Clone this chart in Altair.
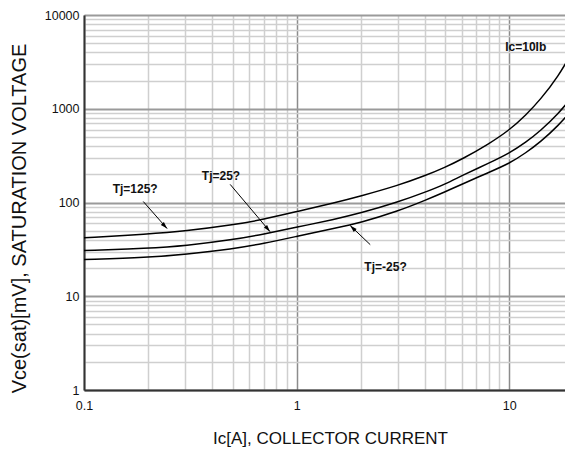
import altair as alt
import pandas as pd

# ---- data ----
ic = [0.1, 0.2, 0.3, 0.5, 0.7, 1, 1.5, 2, 3, 4, 5, 6, 8, 10, 12, 14, 17, 20]
vce_tj125 = [42, 46, 49.6, 57.5, 66, 80, 99, 117, 152, 192, 238, 290, 420, 590, 860, 1250, 2200, 4200]
vce_tj25 = [30.7, 32.5, 34.5, 40, 46, 54.5, 66, 77, 101, 128, 157, 194, 262, 335, 440, 580, 880, 1380]
vce_tjm25 = [24.6, 26, 28, 32, 36.5, 43.5, 53, 61, 81, 105, 130, 157, 209, 260, 340, 440, 660, 1000]

label_text = ["Ic=10Ib", "Tj=125?", "Tj=25?", "Tj=-25?"]
label_x = [11.96, 0.174, 0.441, 2.62]
label_y = [4550, 138, 194, 20.4]

arrow_x = [0.190, 0.487, 2.22]
arrow_y = [102.5, 156, 35.5]
arrow_x2 = [0.246, 0.75, 1.786]
arrow_y2 = [52.7, 48.9, 56.8]
arrow_angle = [137, 140, 314]

x_grid = [0.1, 0.2, 0.3, 0.4, 0.5, 0.6, 0.7, 0.8, 0.9,
          1, 2, 3, 4, 5, 6, 7, 8, 9, 10]
y_grid = [1, 2, 3, 4, 5, 6, 7, 8, 9,
          10, 20, 30, 40, 50, 60, 70, 80, 90,
          100, 200, 300, 400, 500, 600, 700, 800, 900,
          1000, 2000, 3000, 4000, 5000, 6000, 7000, 8000, 9000, 10000]

FONT = "Liberation Sans"
TXT = "#111111"

rows = []
for name, vals in [("Tj=125", vce_tj125), ("Tj=25", vce_tj25), ("Tj=-25", vce_tjm25)]:
    for a, v in zip(ic, vals):
        rows.append({"ic": a, "vce": v, "series": name})
curves = pd.DataFrame(rows)
labels = pd.DataFrame({"t": label_text, "ic": label_x, "vce": label_y})
arrows = pd.DataFrame({"ic": arrow_x, "vce": arrow_y, "ic2": arrow_x2, "vce2": arrow_y2})
heads = pd.DataFrame({"ic": arrow_x2, "vce": arrow_y2, "ang": arrow_angle})

decade = "abs(log(datum.value)/LN10 - round(log(datum.value)/LN10)) < 0.001"

xscale = alt.Scale(type="log", domain=[0.1, 18.3], nice=False)
yscale = alt.Scale(type="log", domain=[1, 10000], nice=False)

xaxis = alt.Axis(
    values=x_grid, labelExpr=f"({decade}) ? format(datum.value, '~g') : ''",
    labelOverlap=False, labelFlush=False, ticks=False, grid=True,
    gridColor={"condition": {"test": decade, "value": "#8c8c8c"}, "value": "#cfcfcf"},
    gridWidth={"condition": {"test": decade, "value": 1.5}, "value": 1.5},
    domainColor="#333333", domainWidth=2,
    labelFont=FONT, labelFontSize=12.5, labelColor=TXT, labelPadding=9,
    title="Ic[A], COLLECTOR CURRENT", titleFont=FONT, titleFontSize=17,
    titleFontWeight="normal", titleColor=TXT, titleBaseline="middle",
    titleAlign="center", titleX=246, titleY=48,
)
yaxis = alt.Axis(
    values=y_grid, labelExpr=f"({decade}) ? format(datum.value, '~g') : ''",
    labelOverlap=False, labelFlush=False, ticks=False, grid=True,
    gridColor={"condition": {"test": decade, "value": "#9a9a9a"}, "value": "#cfcfcf"},
    gridWidth={"condition": {"test": decade, "value": 2}, "value": 1.5},
    domainColor="#333333", domainWidth=2,
    labelFont=FONT, labelFontSize=12.5, labelColor=TXT, labelPadding=5,
    title="Vce(sat)[mV], SATURATION VOLTAGE", titleFont=FONT, titleFontSize=20,
    titleFontWeight="normal", titleColor=TXT, titleBaseline="middle",
    titleAlign="center", titleX=-65, titleY=203,
)

X = alt.X("ic:Q", scale=xscale, axis=xaxis)
Y = alt.Y("vce:Q", scale=yscale, axis=yaxis)

lines = alt.Chart(curves).mark_line(color="black", strokeWidth=1.5, interpolate="basis", clip=True).encode(
    x=X, y=Y, detail="series:N",
)

rules = alt.Chart(arrows).mark_rule(color="black", strokeWidth=1).encode(
    x=X, y=Y, x2="ic2:Q", y2="vce2:Q",
)

arrowheads = alt.Chart(heads).mark_point(
    shape="M0,0L-0.3,1L0.3,1Z", filled=True, color="black", size=196, opacity=1
).encode(
    x=X, y=Y, angle=alt.Angle("ang:Q", scale=None),
)

texts = alt.Chart(labels).mark_text(
    font=FONT, fontSize=12, fontWeight="bold", color=TXT, align="center", baseline="middle"
).encode(
    x=X, y=Y, text="t:N",
)

chart = alt.layer(lines, rules, arrowheads, texts).properties(
    width=481, height=375,
    autosize=alt.AutoSizeParams(type="none"),
    padding={"left": 76, "top": 7, "right": 0, "bottom": 57},
    background="white",
).configure_view(stroke=None)

chart.save("out.html", embed_options={"renderer": "svg", "actions": False})
